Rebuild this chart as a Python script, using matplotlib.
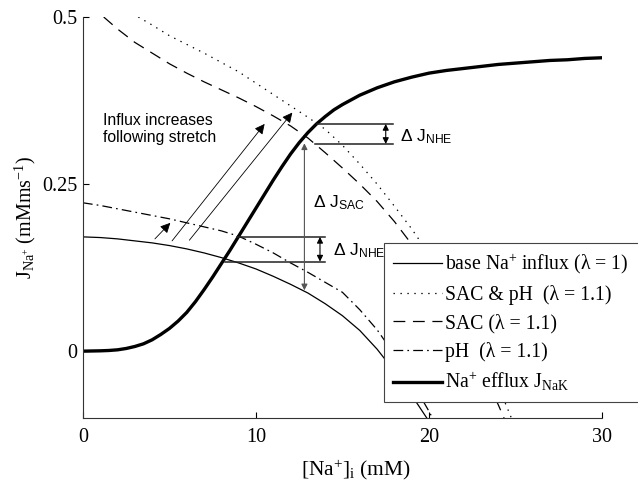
import numpy as np
import matplotlib
matplotlib.use("Agg")
import matplotlib.pyplot as plt

plt.rcParams['mathtext.fontset'] = 'custom'
plt.rcParams['mathtext.rm'] = 'Liberation Serif'
plt.rcParams['mathtext.it'] = 'Liberation Serif:italic'
plt.rcParams['mathtext.sf'] = 'Liberation Sans'
plt.rcParams['font.family'] = ['Liberation Serif', 'DejaVu Sans']
plt.rcParams['lines.scale_dashes'] = False

# ---------------- data ----------------
x_base = [0, 1, 2, 3, 4, 5, 6, 7, 8, 9, 10, 11, 12, 13, 14, 15, 16, 17, 18, 19, 20]
y_base = [0.171, 0.170, 0.168, 0.165, 0.162, 0.158, 0.153, 0.147, 0.140, 0.132, 0.123,
          0.112, 0.100, 0.087, 0.071, 0.053, 0.031, 0.003, -0.030, -0.066, -0.105]

x_sacph = [3.2, 4, 5, 6, 7, 8, 9, 10, 11, 12, 13, 14, 15, 16, 17, 18, 19, 20, 21, 22, 23, 24, 25]
y_sacph = [0.500, 0.488, 0.472, 0.459, 0.446, 0.432, 0.418, 0.401, 0.384, 0.367, 0.350,
           0.332, 0.308, 0.280, 0.250, 0.217, 0.183, 0.145, 0.103, 0.057, 0.005, -0.052, -0.115]

x_sac = [1.2, 2, 3, 4, 5, 6, 7, 8, 9, 10, 11, 12, 13, 14, 15, 16, 17, 18, 19, 20, 21, 22, 23, 24, 25]
y_sac = [0.500, 0.482, 0.462, 0.446, 0.430, 0.416, 0.403, 0.391, 0.379, 0.366, 0.352,
         0.337, 0.319, 0.297, 0.274, 0.250, 0.224, 0.194, 0.160, 0.120, 0.075, 0.027,
         -0.025, -0.080, -0.140]

x_ph = [0, 1, 2, 3, 4, 5, 6, 7, 8, 9, 10, 11, 12, 13, 14, 15, 16, 17, 18, 19, 20, 21]
y_ph = [0.222, 0.218, 0.213, 0.208, 0.203, 0.198, 0.192, 0.186, 0.180, 0.172, 0.160,
        0.147, 0.132, 0.118, 0.103, 0.088, 0.062, 0.032, -0.005, -0.045, -0.090, -0.140]

x_eff = [0, 1, 1.5, 2, 2.5, 3, 3.5, 4, 4.5, 5, 5.5, 6, 6.5, 7, 7.5, 8, 8.5, 9, 9.5, 10,
         10.5, 11, 11.5, 12, 12.5, 13, 13.5, 14, 14.5, 15, 15.5, 16, 17, 18, 19, 20,
         21, 22, 23, 24, 25, 26, 27, 28, 29, 30]
y_eff = [0.000, 0.0005, 0.001, 0.002, 0.004, 0.007, 0.011, 0.017, 0.025, 0.034, 0.045,
         0.058, 0.074, 0.092, 0.111, 0.131, 0.151, 0.172, 0.193, 0.214, 0.235, 0.256,
         0.276, 0.295, 0.312, 0.327, 0.340, 0.351, 0.361, 0.369, 0.376, 0.383, 0.394,
         0.403, 0.410, 0.416, 0.420, 0.423, 0.426, 0.429, 0.431, 0.433, 0.435, 0.436,
         0.438, 0.439]

labels = ['base Na$^{+}$ influx (λ = 1)',
          'SAC & pH  (λ = 1.1)',
          'SAC (λ = 1.1)',
          'pH  (λ = 1.1)',
          'Na$^{+}$ efflux J$_{\\mathrm{NaK}}$']

x_ticks = [0, 10, 20, 30]
y_ticks = [0, 0.25, 0.5]
y_tick_labels = ['0', '0.25', '0.5']

# annotation geometry (data units)
stretch_arrows = [((4.16, 0.168), (5.05, 0.192)),
                  ((5.15, 0.165), (10.5, 0.340)),
                  ((6.15, 0.166), (12.1, 0.357))]
nhe_upper_lines = [(13.5, 17.9, 0.340), (13.4, 17.9, 0.310)]
nhe_lower_lines = [(8.9, 14.0, 0.171), (8.2, 14.0, 0.134)]

# ---------------- figure ----------------
fig = plt.figure(figsize=(6.38, 4.83), dpi=100)
ax = fig.add_axes([0.130, 0.1346, 0.8136, 0.8302])

lw = 0.9
ax.plot(x_base, y_base, color='k', lw=lw, label=labels[0])
ax.plot(x_sacph, y_sacph, color='k', lw=lw, ls=(0, (1.0, 4.0)), label=labels[1])
ax.plot(x_sac, y_sac, color='k', lw=lw, ls=(0, (8.5, 5.5)), label=labels[2])
ax.plot(x_ph, y_ph, color='k', lw=lw, ls=(0, (7.0, 3.0, 1.2, 3.0)), label=labels[3])
ax.plot(x_eff, y_eff, color='k', lw=2.4, label=labels[4], solid_joinstyle='round')

# horizontal delta lines
for x0, x1, y in nhe_upper_lines + nhe_lower_lines:
    ax.plot([x0, x1], [y, y], color='#222222', lw=1.1)

arrowkw = dict(arrowstyle='<|-|>', color='k', lw=0.8, mutation_scale=9,
               shrinkA=0, shrinkB=0)
ax.annotate('', xy=(17.5, 0.340), xytext=(17.5, 0.310), arrowprops=arrowkw)
ax.annotate('', xy=(13.7, 0.171), xytext=(13.7, 0.134), arrowprops=arrowkw)
sackw = dict(arrowkw)
sackw['color'] = '#555555'
ax.annotate('', xy=(12.8, 0.311), xytext=(12.8, 0.091), arrowprops=sackw)

for (x0, y0), (x1, y1) in stretch_arrows:
    ax.annotate('', xy=(x1, y1), xytext=(x0, y0),
                arrowprops=dict(arrowstyle='-|>', color='k', lw=0.6,
                                mutation_scale=15, shrinkA=0, shrinkB=0))

sans = ['Liberation Sans', 'DejaVu Sans']
ax.text(1.15, 0.333, 'Influx increases\nfollowing stretch', family=sans,
        fontsize=11.3, va='center', ha='left', linespacing=1.15)
ax.text(18.3, 0.321, 'Δ J$_{\\mathsf{NHE}}$', family=sans, fontsize=12.5,
        va='center', ha='left')
ax.text(14.45, 0.150, 'Δ J$_{\\mathsf{NHE}}$', family=sans, fontsize=12.5,
        va='center', ha='left')
ax.text(13.3, 0.222, 'Δ J$_{\\mathsf{SAC}}$', family=sans, fontsize=12.5,
        va='center', ha='left')

ax.set_xlim(0, 30)
ax.set_ylim(-0.1, 0.5)
ax.set_xticks(x_ticks)
ax.set_yticks(y_ticks)
ax.set_yticklabels(y_tick_labels)
ax.tick_params(direction='in', length=4, width=0.8, labelsize=14.5, colors='k')
ax.tick_params(axis='x', pad=7)
ax.tick_params(axis='y', pad=4)
for s in ['top', 'right']:
    ax.spines[s].set_visible(False)
for s in ['left', 'bottom']:
    ax.spines[s].set_linewidth(0.8)
    ax.spines[s].set_color('#333333')

ax.set_xlabel('[Na$^{+}$]$_{\\mathrm{i}}$ (mM)', fontsize=15.5, labelpad=8)
ax.xaxis.label.set_x(0.527)
ax.set_ylabel('J$_{\\mathrm{Na}^{+}}$ (mMms$^{-1}$)', fontsize=14.5, labelpad=3)

leg = ax.legend(loc='upper left', bbox_to_anchor=(0.58, 0.0, 0.52, 0.436),
                mode='expand', fontsize=14.2,
                handlelength=2.5, handletextpad=0.12, labelspacing=0.44,
                borderpad=0.45, frameon=True, fancybox=False, framealpha=1,
                edgecolor='#444444', borderaxespad=0)
leg.get_frame().set_linewidth(0.8)

fig.savefig('out.png', dpi=100)
